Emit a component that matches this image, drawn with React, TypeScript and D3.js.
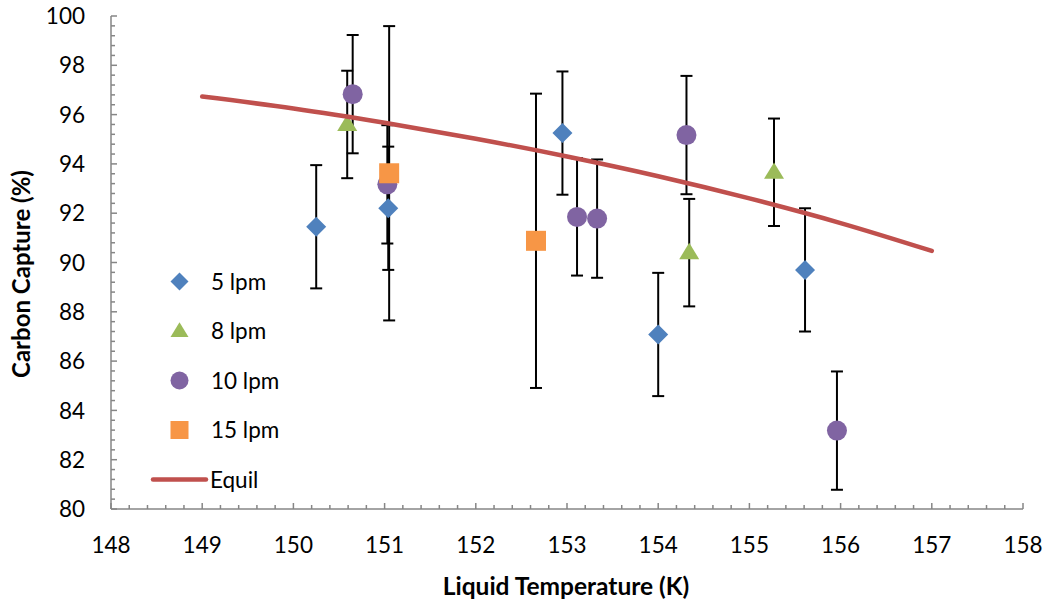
import React from "react";
import * as d3 from "d3";

const xTicks = [148, 149, 150, 151, 152, 153, 154, 155, 156, 157, 158];
const yTicks = [80, 82, 84, 86, 88, 90, 92, 94, 96, 98, 100];

const lpm5X = [150.25, 151.04, 152.95, 154.0, 155.61];
const lpm5Y = [91.45, 92.2, 95.25, 87.08, 89.7];
const lpm5Err = [2.5, 2.5, 2.5, 2.5, 2.5];

const lpm8X = [150.59, 154.34, 155.27];
const lpm8Y = [95.6, 90.4, 93.66];
const lpm8Err = [2.18, 2.18, 2.18];

const lpm10X = [150.65, 151.03, 153.11, 153.33, 154.31, 155.96];
const lpm10Y = [96.83, 93.17, 91.85, 91.78, 95.17, 83.18];
const lpm10Err = [2.4, 2.4, 2.38, 2.4, 2.4, 2.4];

const lpm15X = [151.05, 152.66];
const lpm15Y = [93.62, 90.88];
const lpm15Err = [5.97, 5.97];

const equilX = [149, 150, 151, 152, 153, 154, 155, 156, 157];
const equilY = [96.73, 96.25, 95.67, 95.02, 94.3, 93.5, 92.6, 91.6, 90.47];

const legendLabels = ["5 lpm", "8 lpm", "10 lpm", "15 lpm", "Equil"];

const COLORS = {
  blue: "#4F81BD",
  green: "#9BBB59",
  purple: "#8064A2",
  orange: "#F79646",
  red: "#C0504D",
  axis: "#868686",
};

const FONT = "Lato, 'Open Sans', sans-serif";

type Shape = "diamond" | "triangle" | "circle" | "square";

function Marker({ shape, x, y, size, color }: { shape: Shape; x: number; y: number; size: number; color: string }) {
  const h = size / 2;
  if (shape === "diamond") {
    return <path d={`M${x},${y - h}L${x + h},${y}L${x},${y + h}L${x - h},${y}Z`} fill={color} />;
  }
  if (shape === "triangle") {
    const th = size * 0.82;
    return (
      <path
        d={`M${x},${y - th * 0.6}L${x + h},${y + th * 0.4}L${x - h},${y + th * 0.4}Z`}
        fill={color}
      />
    );
  }
  if (shape === "circle") {
    return <circle cx={x} cy={y} r={h} fill={color} />;
  }
  return <rect x={x - h} y={y - h} width={size} height={size} fill={color} />;
}

export default function App() {
  const W = 1048;
  const H = 604;
  const x = d3.scaleLinear().domain([148, 158]).range([111, 1023]);
  const y = d3.scaleLinear().domain([80, 100]).range([509, 16]);

  const series: { xs: number[]; ys: number[]; err: number[]; shape: Shape; color: string }[] = [
    { xs: lpm5X, ys: lpm5Y, err: lpm5Err, shape: "diamond", color: COLORS.blue },
    { xs: lpm8X, ys: lpm8Y, err: lpm8Err, shape: "triangle", color: COLORS.green },
    { xs: lpm10X, ys: lpm10Y, err: lpm10Err, shape: "circle", color: COLORS.purple },
    { xs: lpm15X, ys: lpm15Y, err: lpm15Err, shape: "square", color: COLORS.orange },
  ];

  const xMinor = d3.range(148, 158.0001, 0.2);
  const yMinor = d3.range(80, 100.0001, 0.4);

  const line = d3
    .line<number>()
    .x((_, i) => x(equilX[i]))
    .y((d) => y(d))
    .curve(d3.curveMonotoneX);

  const capW = 6;

  return (
    <svg
      width={W}
      height={H}
      style={{ position: "absolute", left: 0, top: 0, background: "#fff" }}
      fontFamily={FONT}
    >
      <rect width={W} height={H} fill="#fff" />
      {/* axes */}
      <g stroke={COLORS.axis} strokeWidth={1.5}>
        <line x1={x(148)} x2={x(158)} y1={y(80)} y2={y(80)} />
        <line x1={x(148)} x2={x(148)} y1={y(80)} y2={y(100)} />
        {xMinor.map((t, i) => (
          <line key={"xm" + i} x1={x(t)} x2={x(t)} y1={y(80)} y2={y(80) - (i % 5 === 0 ? 6 : 4)} />
        ))}
        {yMinor.map((t, i) => (
          <line key={"ym" + i} x1={x(148)} x2={x(148) + (i % 5 === 0 ? 6 : 4)} y1={y(t)} y2={y(t)} />
        ))}
      </g>
      {/* tick labels */}
      <g fontSize={22.5} fill="#000">
        {xTicks.map((t) => (
          <text key={"xt" + t} x={x(t)} y={553} textAnchor="middle">
            {t}
          </text>
        ))}
        {yTicks.map((t) => (
          <text key={"yt" + t} x={85} y={y(t)} dy="0.36em" textAnchor="end">
            {t}
          </text>
        ))}
      </g>
      {/* axis titles */}
      <text x={566} y={595} textAnchor="middle" fontSize={24.5} fontWeight="bold">
        Liquid Temperature (K)
      </text>
      <text
        transform={`translate(30,274) rotate(-90)`}
        textAnchor="middle"
        fontSize={24}
        fontWeight="bold"
      >
        Carbon Capture (%)
      </text>
      {/* error bars */}
      <g stroke="#000" strokeWidth={2}>
        {series.map((s, si) =>
          s.xs.map((xv, i) => {
            const cx = x(xv);
            const top = y(s.ys[i] + s.err[i]);
            const bot = y(s.ys[i] - s.err[i]);
            return (
              <g key={`e${si}-${i}`}>
                <line x1={cx} x2={cx} y1={top} y2={bot} />
                <line x1={cx - capW} x2={cx + capW} y1={top} y2={top} />
                <line x1={cx - capW} x2={cx + capW} y1={bot} y2={bot} />
              </g>
            );
          })
        )}
      </g>
      {/* markers */}
      {series.map((s, si) =>
        s.xs.map((xv, i) => (
          <Marker key={`m${si}-${i}`} shape={s.shape} x={x(xv)} y={y(s.ys[i])} size={20} color={s.color} />
        ))
      )}
      {/* equil line */}
      <path d={line(equilY) || ""} fill="none" stroke={COLORS.red} strokeWidth={4.5} strokeLinecap="round" />
      {/* legend */}
      <g fontSize={22.5}>
        {series.map((s, i) => {
          const ly = 281.5 + i * 49.5;
          return (
            <g key={"lg" + i}>
              <Marker shape={s.shape} x={179.5} y={ly} size={18} color={s.color} />
              <text x={211} y={ly} dy="0.36em">
                {legendLabels[i]}
              </text>
            </g>
          );
        })}
        <line x1={153} x2={206} y1={479.5} y2={479.5} stroke={COLORS.red} strokeWidth={4.5} strokeLinecap="round" />
        <text x={210} y={479.5} dy="0.36em">
          {legendLabels[4]}
        </text>
      </g>
    </svg>
  );
}
